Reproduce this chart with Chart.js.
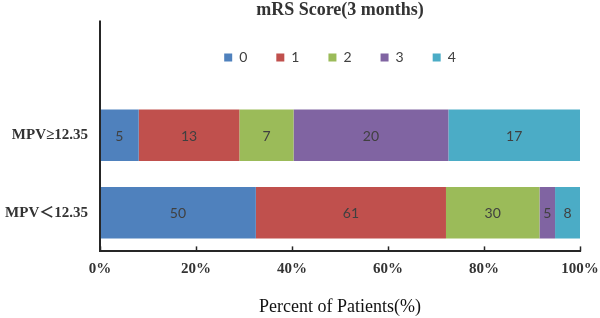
<!DOCTYPE html>
<html>
<head>
<meta charset="utf-8">
<script src="https://cdn.jsdelivr.net/npm/chart.js@4/dist/chart.umd.min.js"></script>
<style>
  html, body { margin: 0; padding: 0; background: #ffffff; }
  #wrap { width: 600px; height: 318px; position: relative; }
</style>
</head>
<body>
<div id="wrap"><canvas id="c" width="600" height="318"></canvas></div>
<script>
// ---- data ----
const categories = ['MPV≥12.35', 'MPV＜12.35'];
const seriesNames = ['0', '1', '2', '3', '4'];
const score0 = [5, 50];
const score1 = [13, 61];
const score2 = [7, 30];
const score3 = [20, 5];
const score4 = [17, 8];
const xTickValues = [0, 20, 40, 60, 80, 100];
const chartTitle = 'mRS Score(3 months)';
const xAxisTitle = 'Percent of Patients(%)';

const seriesCounts = [score0, score1, score2, score3, score4];
const seriesColors = ['#4F81BD', '#C0504D', '#9BBB59', '#8064A2', '#4BACC6'];
const rowTotals = categories.map((_, i) => seriesCounts.reduce((s, arr) => s + arr[i], 0));

const datasets = seriesNames.map((name, k) => ({
  label: name,
  data: seriesCounts[k].map((v, i) => v / rowTotals[i] * 100),
  counts: seriesCounts[k],
  backgroundColor: seriesColors[k],
  borderWidth: 0,
  barPercentage: 0.667,
  categoryPercentage: 1
}));

const serif = "'Liberation Serif', 'Noto Sans CJK SC', serif";
const sans = "Lato, 'Liberation Sans', sans-serif";

const legendSpacer = {
  id: 'legendSpacer',
  beforeInit(chart) {
    const origFit = chart.legend.fit;
    chart.legend.fit = function () {
      origFit.call(this);
      this.height += 22;
    };
  }
};

const decorations = {
  id: 'decorations',
  afterDatasetsDraw(chart) {
    const ctx = chart.ctx;
    ctx.save();
    ctx.font = '14px ' + sans;
    ctx.fillStyle = '#404040';
    ctx.textAlign = 'center';
    ctx.textBaseline = 'middle';
    chart.data.datasets.forEach((ds, k) => {
      const meta = chart.getDatasetMeta(k);
      meta.data.forEach((el, i) => {
        const p = el.getProps(['x', 'y', 'base'], true);
        ctx.fillText(String(ds.counts[i]), (p.x + p.base) / 2, p.y + 1);
      });
    });
    ctx.restore();
  },
  afterDraw(chart) {
    const ctx = chart.ctx;
    const area = chart.chartArea;
    const xs = chart.scales.x;
    ctx.save();
    ctx.strokeStyle = '#262626';
    ctx.lineWidth = 2;
    ctx.beginPath();
    ctx.moveTo(area.left, chart.titleBlock.bottom - 1);
    ctx.lineTo(area.left, area.bottom);
    ctx.stroke();
    ctx.lineWidth = 1.5;
    xTickValues.forEach(v => {
      const px = Math.round(xs.getPixelForValue(v)) + 0.5;
      ctx.beginPath();
      ctx.moveTo(px, area.bottom - 5);
      ctx.lineTo(px, area.bottom);
      ctx.stroke();
    });
    ctx.restore();
  }
};

new Chart(document.getElementById('c'), {
  type: 'bar',
  data: { labels: categories, datasets },
  plugins: [legendSpacer, decorations],
  options: {
    indexAxis: 'y',
    responsive: false,
    animation: false,
    devicePixelRatio: 1,
    layout: { padding: { left: 0, right: 20, top: 0, bottom: 0 } },
    plugins: {
      title: {
        display: true,
        text: chartTitle,
        fullSize: false,
        color: '#333333',
        font: { family: serif, size: 18, weight: 'bold' },
        padding: { top: 0, bottom: 0 }
      },
      legend: {
        display: true,
        position: 'top',
        fullSize: false,
        labels: {
          boxWidth: 8,
          boxHeight: 8,
          padding: 29,
          color: '#404040',
          font: { family: sans, size: 14 }
        }
      },
      tooltip: { enabled: false }
    },
    scales: {
      x: {
        stacked: true,
        min: 0,
        max: 100,
        afterBuildTicks: s => { s.ticks = xTickValues.map(v => ({ value: v })); },
        afterFit: s => { s.paddingRight = 20; s.paddingLeft = 0; },
        grid: { display: false, drawTicks: false },
        border: { display: true, color: '#262626', width: 2 },
        ticks: {
          padding: 9,
          color: '#333333',
          font: { family: serif, size: 15, weight: 'bold' },
          callback: v => v + '%'
        },
        title: {
          display: true,
          text: xAxisTitle,
          color: '#111111',
          font: { family: serif, size: 18 },
          padding: { top: 9, bottom: 0 }
        }
      },
      y: {
        stacked: true,
        afterFit: s => { s.width = 100; },
        grid: { display: false, drawTicks: false },
        border: { display: false },
        ticks: {
          padding: 12,
          color: '#333333',
          font: { family: serif, size: 15, weight: 'bold' }
        }
      }
    }
  }
});
</script>
</body>
</html>
